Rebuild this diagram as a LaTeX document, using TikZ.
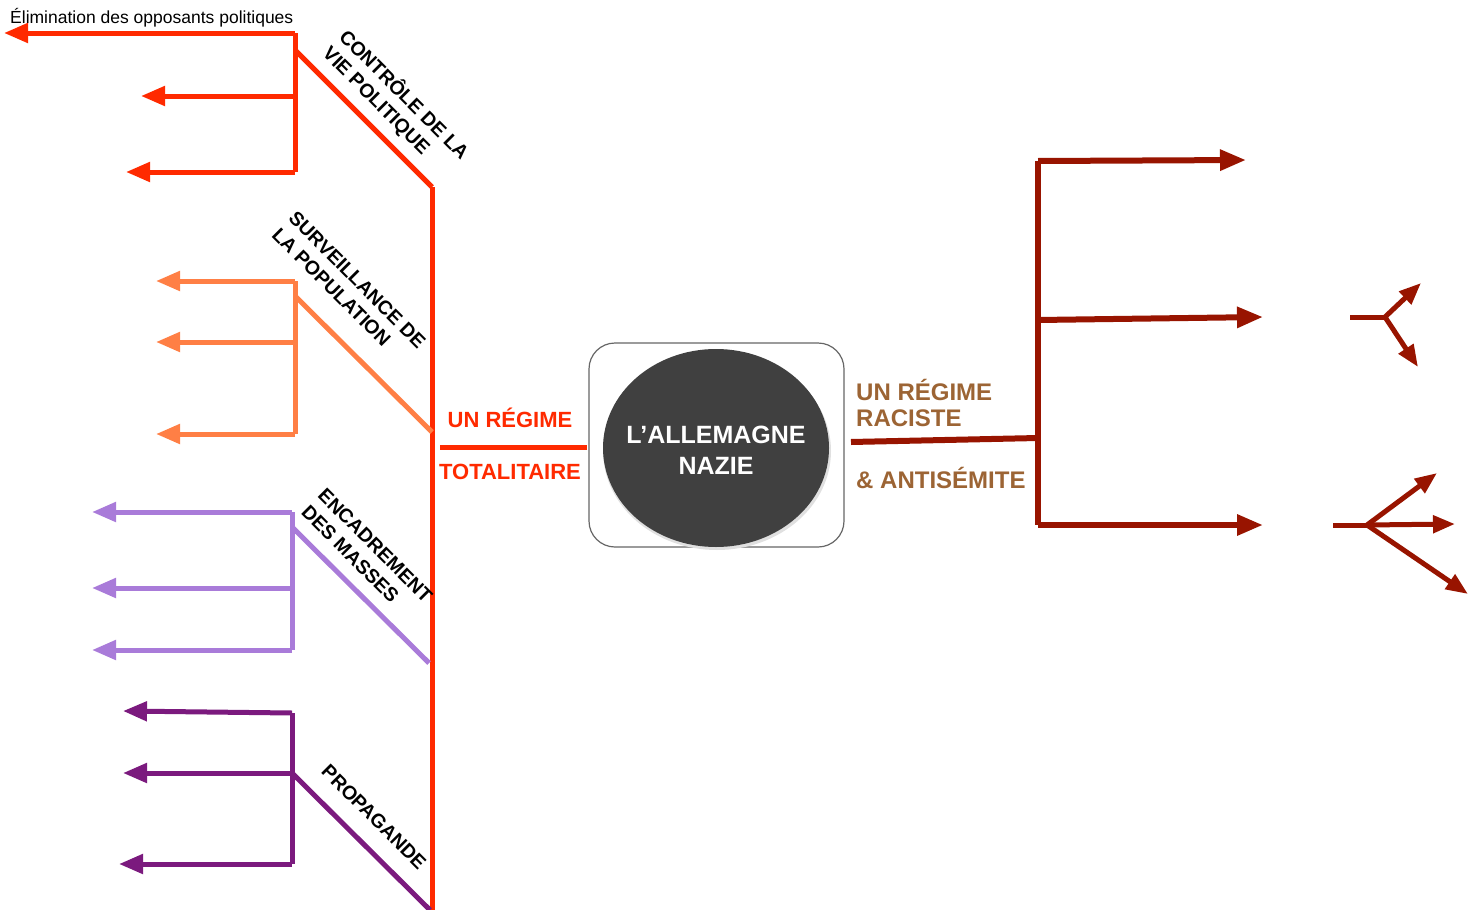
\documentclass[tikz,border=0pt]{standalone}
\usepackage{fontspec}
\setmainfont{Liberation Sans}
\usetikzlibrary{arrows.meta,shapes.geometric}

\definecolor{totred}{HTML}{FF2A00}
\definecolor{survor}{HTML}{FF7F45}
\definecolor{encla}{HTML}{A97BD9}
\definecolor{proppu}{HTML}{7B1A7E}
\definecolor{racred}{HTML}{981400}
\definecolor{racbr}{HTML}{9C6434}
\definecolor{nazigr}{HTML}{404040}

\begin{document}
\begin{tikzpicture}[x=1pt,y=-1pt,
    branch/.style={line width=5pt,line join=miter},
    tip/.style={-{Triangle[length=24pt,width=19pt]}},
    rtip/.style={-{Triangle[length=26pt,width=20pt]}},
    ftip/.style={-{Triangle[length=22pt,width=17pt]}},
    axis/.style={font=\fontsize{19.5}{23.5}\selectfont\bfseries,rotate=-45,align=left,inner sep=0pt},
    title/.style={font=\fontsize{22}{26}\selectfont\bfseries,text=totred,inner sep=0pt},
    rtitle/.style={font=\fontsize{24}{28}\selectfont\bfseries,text=racbr,inner sep=0pt,anchor=west}]
  \useasboundingbox (0,0) rectangle (1478,910);

  % centre
  \node[draw=black!60,line width=1.2pt,rounded corners=26pt,minimum width=255pt,minimum height=204pt] (box) at (716.5,445) {};
  \fill[black!12] (717,451) ellipse (114pt and 99pt);
  \fill[nazigr] (716,448) ellipse (113pt and 99pt);
  \node[text=white,align=center,inner sep=0pt,
        font=\fontsize{25}{31}\selectfont\bfseries] (nazi) at (716,450) {L’ALLEMAGNE\\NAZIE};

  % un regime totalitaire
  \coordinate (T1) at (432,187);
  \coordinate (T2) at (432,910);
  \coordinate (Tl) at (440,447);
  \coordinate (Tr) at (587,447);
  \draw[branch,totred] (T1) -- (T2);
  \draw[branch,totred] (Tl) -- (Tr);
  \node[title] (UR) at (510,418) {UN RÉGIME};
  \node[title] (TOT) at (510,472) {TOTALITAIRE};

  % controle de la vie politique
  \coordinate (C0) at (295,50);
  \coordinate (C1) at (295,33);
  \coordinate (C2) at (295,96);
  \coordinate (C3) at (295,172);
  \coordinate (C1e) at (4,33);
  \coordinate (C2e) at (141,96);
  \coordinate (C3e) at (126,172);
  \draw[branch,totred] (T1) -- (C0);
  \draw[branch,totred] (C1) -- (C3);
  \draw[branch,totred,tip] (C1) -- (C1e);
  \draw[branch,totred,tip] (C2) -- (C2e);
  \draw[branch,totred,tip] (C3) -- (C3e);
  \node[axis] (CV) at (396,103) {CONTRÔLE DE LA\\VIE POLITIQUE};
  \node[font=\fontsize{17.5}{20}\selectfont,anchor=west,inner sep=0pt] (elim) at (10,18) {Élimination des opposants politiques};

  % surveillance
  \coordinate (S0) at (295,296);
  \coordinate (S1) at (295,281);
  \coordinate (S2) at (295,342);
  \coordinate (S3) at (295,434);
  \coordinate (S1e) at (156,281);
  \coordinate (S2e) at (156,342);
  \coordinate (S3e) at (156,434);
  \coordinate (Sj) at (432,432);
  \draw[branch,survor] (Sj) -- (S0);
  \draw[branch,survor] (S1) -- (S3);
  \draw[branch,survor,tip] (S1) -- (S1e);
  \draw[branch,survor,tip] (S2) -- (S2e);
  \draw[branch,survor,tip] (S3) -- (S3e);
  \node[axis] (SP) at (349,288) {SURVEILLANCE DE\\LA POPULATION};

  % encadrement
  \coordinate (E0) at (292,527);
  \coordinate (E1) at (292,512);
  \coordinate (E2) at (292,588);
  \coordinate (E3) at (292,650);
  \coordinate (E1e) at (92,512);
  \coordinate (E2e) at (92,588);
  \coordinate (E3e) at (92,650);
  \coordinate (Ej) at (429,663);
  \draw[branch,encla] (Ej) -- (E0);
  \draw[branch,encla] (E1) -- (E3);
  \draw[branch,encla,tip] (E1) -- (E1e);
  \draw[branch,encla,tip] (E2) -- (E2e);
  \draw[branch,encla,tip] (E3) -- (E3e);
  \node[axis] (EM) at (367,554) {ENCADREMENT\\DES MASSES};

  % propagande
  \coordinate (P0) at (292,773);
  \coordinate (P1) at (292,713);
  \coordinate (P3) at (292,864);
  \coordinate (P1e) at (123,711);
  \coordinate (P2e) at (123,773);
  \coordinate (P3e) at (119,864);
  \coordinate (Pj) at (430,910);
  \draw[branch,proppu] (Pj) -- (P0);
  \draw[branch,proppu] (P1) -- (P3);
  \draw[branch,proppu,tip] (P1) -- (P1e);
  \draw[branch,proppu,tip] (P0) -- (P2e);
  \draw[branch,proppu,tip] (P3) -- (P3e);
  \node[axis] (PR) at (374,817) {PROPAGANDE};

  % un regime raciste
  \coordinate (R0) at (851,442);
  \coordinate (Rj) at (1038,438);
  \coordinate (R1) at (1038,161);
  \coordinate (R2) at (1038,320);
  \coordinate (R3) at (1038,525);
  \coordinate (R1e) at (1246,160);
  \coordinate (R2e) at (1263,317);
  \coordinate (R3e) at (1263,525);
  \draw[branch,racred,line width=6pt] (R0) -- (Rj);
  \draw[branch,racred,line width=6pt] (R1) -- (R3);
  \draw[branch,racred,line width=6pt,rtip] (R1) -- (R1e);
  \draw[branch,racred,line width=6pt,rtip] (R2) -- (R2e);
  \draw[branch,racred,line width=6pt,rtip] (R3) -- (R3e);
  \node[rtitle] (RR) at (856,390) {UN RÉGIME};
  \node[rtitle] (RA) at (856,418) {RACISTE};
  \node[rtitle] (AS) at (856,478) {\& ANTISÉMITE};

  % petites fourches
  \coordinate (F0) at (1350,317);
  \coordinate (F1) at (1385,317);
  \coordinate (F1a) at (1421,283);
  \coordinate (F1b) at (1418,367);
  \draw[racred,line width=5pt] (F0) -- (F1);
  \draw[racred,line width=5pt,ftip] (F1) -- (F1a);
  \draw[racred,line width=5pt,ftip] (F1) -- (F1b);
  \coordinate (G0) at (1333,525);
  \coordinate (G1) at (1367,525);
  \coordinate (G1a) at (1437,473);
  \coordinate (G1b) at (1455,524);
  \coordinate (G1c) at (1468,594);
  \draw[racred,line width=5pt] (G0) -- (G1);
  \draw[racred,line width=5pt,ftip] (G1) -- (G1a);
  \draw[racred,line width=5pt,ftip] (G1) -- (G1b);
  \draw[racred,line width=5pt,ftip] (G1) -- (G1c);
\end{tikzpicture}
\end{document}
